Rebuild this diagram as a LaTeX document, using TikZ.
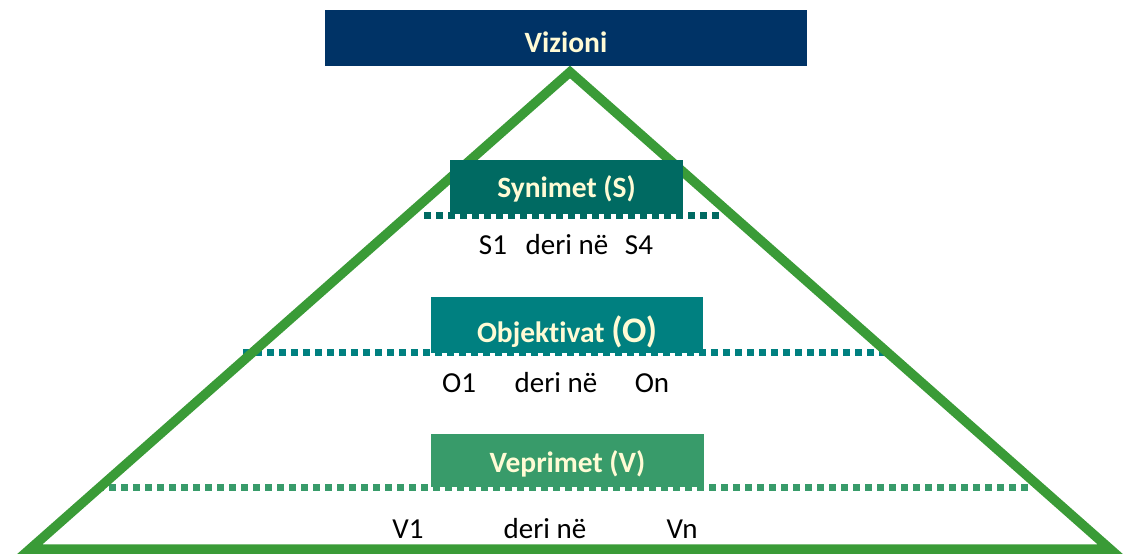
\documentclass[tikz,border=0pt]{standalone}
\usepackage{fontspec}
\setmainfont[Ligatures=NoCommon]{Carlito}

\definecolor{vizblue}{RGB}{0,51,102}
\definecolor{synteal}{RGB}{0,106,98}
\definecolor{objteal}{RGB}{0,128,128}
\definecolor{vepgreen}{RGB}{56,155,106}
\definecolor{trigreen}{RGB}{58,155,55}
\definecolor{cream}{RGB}{255,251,213}

\begin{document}
\begin{tikzpicture}[x=1pt, y=-1pt,
  box/.style={inner sep=0pt, text=cream, text depth=0pt,
    font=\bfseries\fontsize{29.5}{34}\selectfont},
  dots/.style={line width=7pt, dash pattern=on 7pt off 5pt},
  lbl/.style={anchor=base, font=\fontsize{29}{34}\selectfont}]
  \useasboundingbox (0,0) rectangle (1123,555);

  % Coordinates (pixels)
  \coordinate (T) at (570,72);
  \coordinate (L) at (30,549);
  \coordinate (R) at (1110,549);
  \coordinate (SL) at (424,215);
  \coordinate (SR) at (722,215);
  \coordinate (OL) at (243,352);
  \coordinate (OR) at (889,352);
  \coordinate (VL) at (97,487);
  \coordinate (VR) at (1032,487);

  % Dotted levels
  \draw[dots, synteal] (SL) -- (SR);
  \draw[dots, objteal] (OL) -- (OR);
  \draw[dots, vepgreen] (VL) -- (VR);

  % Pyramid (green)
  \draw[trigreen, line width=9.5pt, miter limit=4] (T) -- (L) -- (R) -- cycle;

  % Boxes
  \node[box, fill=vizblue, minimum width=482pt, minimum height=56pt,
    text height=29pt] (viz) at (566,38) {Vizioni};
  \node[box, fill=synteal, minimum width=233pt, minimum height=54pt,
    text height=21pt] (syn) at (566.5,187) {Synimet (S)};
  \node[box, fill=objteal, minimum width=272pt, minimum height=56pt,
    text height=34pt] (obj) at (567,325) {Objektivat {\fontsize{36}{40}\selectfont(O)}};
  \node[box, fill=vepgreen, minimum width=273pt, minimum height=53pt,
    text height=23pt] (vep) at (567.5,460.5) {Veprimet (V)};

  % Labels
  \node[lbl] (s1) at (493,254) {S1};
  \node[lbl] (sderi) at (567,254) {deri në};
  \node[lbl] (s4) at (639,254) {S4};
  \node[lbl] (o1) at (459,392) {O1};
  \node[lbl] (oderi) at (556,392) {deri në};
  \node[lbl] (on) at (652,392) {On};
  \node[lbl] (v1) at (408,538) {V1};
  \node[lbl] (vderi) at (545,538) {deri në};
  \node[lbl] (vn) at (682,538) {Vn};
\end{tikzpicture}
\end{document}
